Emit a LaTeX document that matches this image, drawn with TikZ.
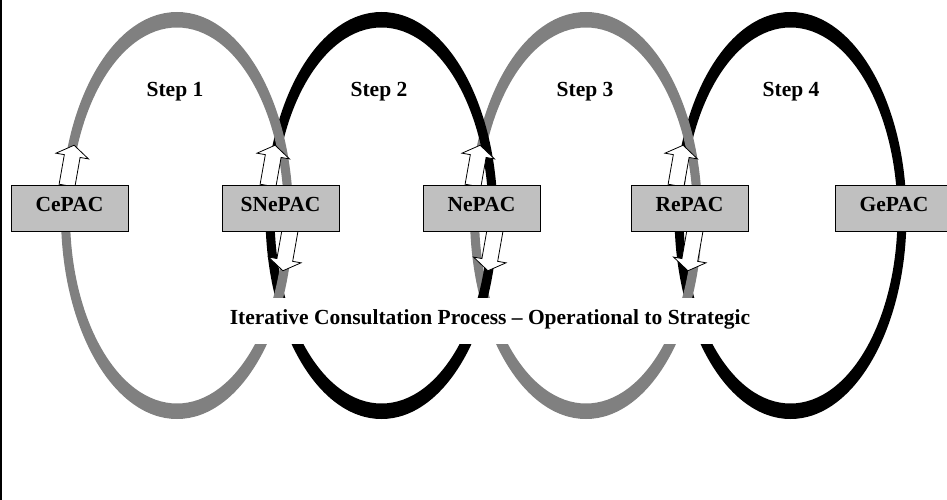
\documentclass[tikz,border=0pt]{standalone}
\usepackage{fontspec}
\setmainfont{Liberation Serif}
\begin{document}
\begin{tikzpicture}[x=1pt,y=-1pt,
  pacbox/.style={draw=black, line width=0.8pt, fill=boxgray, minimum width=117pt, minimum height=46pt,
    inner sep=0pt, text depth=8pt, font=\bfseries\fontsize{21.5}{25}\selectfont},
  titlebox/.style={fill=white, minimum height=46pt, inner xsep=6pt, inner ysep=0pt, text depth=8pt,
    font=\bfseries\fontsize{21.5}{25}\selectfont},
  steplabel/.style={anchor=base, inner sep=0pt, font=\bfseries\fontsize{21.5}{25}\selectfont},
  ringgray/.style={fill=ringcol, even odd rule},
  ringblack/.style={fill=black, even odd rule},
  blockarrow/.pic={\draw[fill=white, line width=0.8pt, line join=miter]
    (-8,0) -- (-8,-30) -- (-16.5,-30) -- (0,-41) -- (16.5,-30) -- (8,-30) -- (8,0) -- cycle;}
]
\definecolor{boxgray}{HTML}{C0C0C0}
\definecolor{ringcol}{HTML}{808080}
\useasboundingbox (0,0) rectangle (947,500);
\fill[black] (0,0) rectangle (2,500);
% rings, right to left so the left ring lies on top
\coordinate (r1) at (177,215.5);
\coordinate (r2) at (381.5,215.5);
\coordinate (r3) at (586,215.5);
\coordinate (r4) at (790.5,215.5);
\fill[ringblack] (r4) ellipse [x radius=116pt, y radius=203.5pt] (r4) ellipse [x radius=107pt, y radius=188pt];
\fill[ringgray]  (r3) ellipse [x radius=116pt, y radius=203.5pt] (r3) ellipse [x radius=107pt, y radius=188pt];
\fill[ringblack] (r2) ellipse [x radius=116pt, y radius=203.5pt] (r2) ellipse [x radius=107pt, y radius=188pt];
\fill[ringgray]  (r1) ellipse [x radius=116pt, y radius=203.5pt] (r1) ellipse [x radius=107pt, y radius=188pt];
% boxes
\node[pacbox] (ce)  at (69.5,208)  {CePAC};
\node[pacbox] (sne) at (280.5,208) {SNePAC};
\node[pacbox] (ne)  at (481.5,208) {NePAC};
\node[pacbox] (re)  at (689.5,208) {RePAC};
\node[pacbox] (ge)  at (894,208)   {GePAC};
% block arrows
\pic[rotate=-10] at ([xshift=-2.5pt,yshift=-1pt]ce.north) {blockarrow};
\pic[rotate=-10] at ([xshift=-12.5pt,yshift=-1pt]sne.north) {blockarrow};
\pic[rotate=-10] at ([xshift=-8.5pt,yshift=-1pt]ne.north) {blockarrow};
\pic[rotate=-10] at ([xshift=-13.5pt,yshift=-1pt]re.north) {blockarrow};
\pic[rotate=170] at ([xshift=9.5pt,yshift=1pt]sne.south) {blockarrow};
\pic[rotate=170] at ([xshift=13.5pt,yshift=1pt]ne.south) {blockarrow};
\pic[rotate=170] at ([xshift=5.5pt,yshift=1pt]re.south) {blockarrow};
% redraw boxes over arrow bases
\node[pacbox] at (ce) {CePAC};
\node[pacbox] at (sne) {SNePAC};
\node[pacbox] at (ne) {NePAC};
\node[pacbox] at (re) {RePAC};
% step labels
\node[steplabel] (s1) at (175,97) {Step 1};
\node[steplabel] (s2) at (379,97) {Step 2};
\node[steplabel] (s3) at (585,97) {Step 3};
\node[steplabel] (s4) at (791,97) {Step 4};
% title
\node[titlebox] (title) at (490,321) {Iterative Consultation Process -- Operational to Strategic};
\end{tikzpicture}
\end{document}
